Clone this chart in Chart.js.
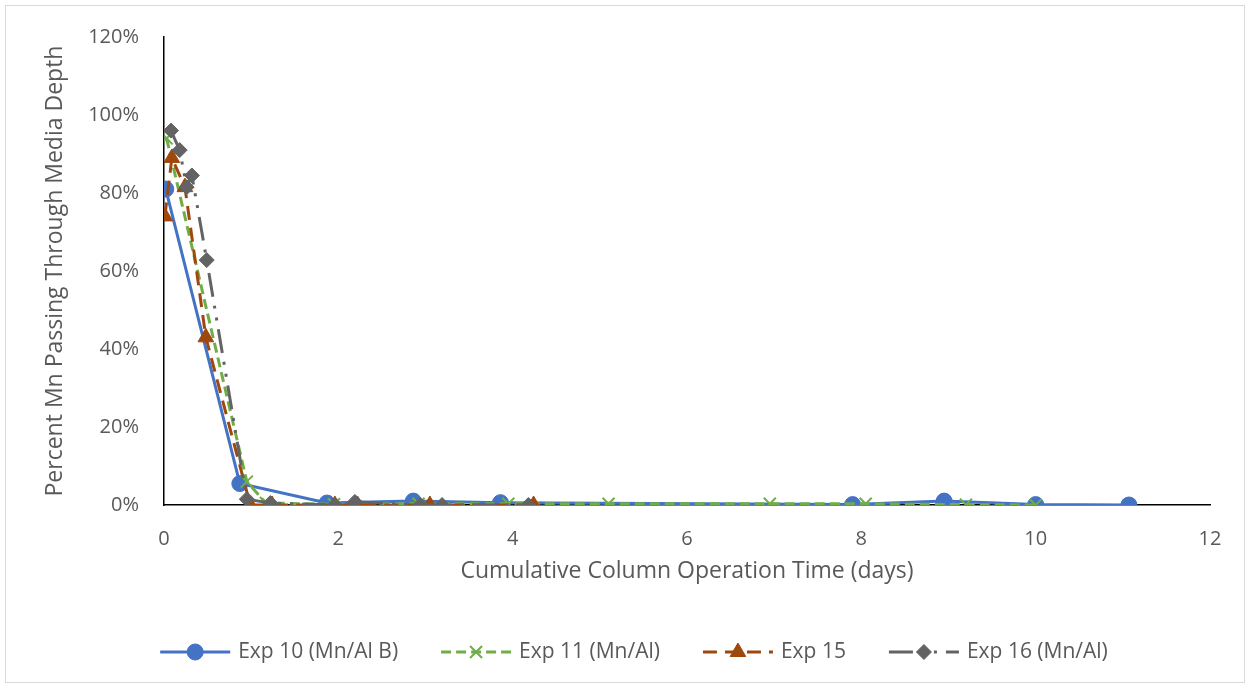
<!DOCTYPE html>
<html>
<head>
<meta charset="utf-8">
<script src="https://cdn.jsdelivr.net/npm/chart.js@4.4.0/dist/chart.umd.min.js"></script>
<style>
  html, body { margin: 0; padding: 0; background: #fff; }
</style>
</head>
<body>
<canvas id="chart" width="1251" height="688"></canvas>
<script>
// days / percent values
const exp10Days = [0.02, 0.87, 1.87, 2.86, 3.86, 7.9, 8.95, 10.0, 11.07];
const exp10Pct  = [81, 5.5, 0.5, 1.0, 0.6, 0.1, 1.0, 0.1, 0];

const exp11Days = [0.03, 0.95, 1.17, 1.95, 2.92, 3.95, 5.1, 6.95, 8.05, 9.2, 10.0];
const exp11Pct  = [94, 6, 0.5, 0.2, 0.3, 0.3, 0.3, 0.3, 0.3, 0.1, 0];

const exp15Days = [0.01, 0.09, 0.24, 0.48, 0.99, 1.24, 1.96, 2.22, 3.05, 4.24];
const exp15Pct  = [74, 89, 81.5, 43, 0, 0, 0, 0, 0, 0];

const exp16Days = [0.08, 0.18, 0.26, 0.32, 0.49, 0.95, 1.22, 1.96, 2.19, 2.94, 3.19, 4.18];
const exp16Pct  = [96, 91, 81.5, 84.5, 62.8, 1.5, 0.5, 0, 0.8, 0, 0, 0];

const seriesNames = ["Exp 10 (Mn/Al B)", "Exp 11 (Mn/Al)", "Exp 15", "Exp 16 (Mn/Al)"];
const xTicksMax = 12;
const yTicksMax = 120;

const textColor = "#595959";
const fontFam = '"Open Sans", "Noto Sans", sans-serif';

function pts(xs, ys) {
    return xs.map((x, i) => ({ x: x, y: ys[i] }));
}

// white background + light frame
const framePlugin = {
    id: "frame",
    beforeDraw(chart) {
        const ctx = chart.ctx;
        ctx.save();
        ctx.fillStyle = "#fff";
        ctx.fillRect(0, 0, chart.width, chart.height);
        ctx.strokeStyle = "#d9d9d9";
        ctx.lineWidth = 1;
        ctx.strokeRect(5.5, 5.5, chart.width - 12, chart.height - 11);
        ctx.restore();
    }
};

// excel style legend : line with marker in the middle
const lineLegend = {
    id: "lineLegend",
    afterDraw(chart) {
        const ctx = chart.ctx;
        const sets = chart.data.datasets;
        const lineLen = 70, gap = 8, spacing = 43;
        ctx.save();
        ctx.font = "21px " + fontFam;
        const widths = sets.map(ds => lineLen + gap + ctx.measureText(ds.label).width);
        const total = widths.reduce((a, b) => a + b, 0) + spacing * (sets.length - 1);
        let x = 634 - total / 2;
        const y = 652;
        sets.forEach((ds, i) => {
            ctx.strokeStyle = ds.borderColor;
            ctx.lineWidth = ds.borderWidth;
            ctx.setLineDash(ds.borderDash || []);
            ctx.beginPath();
            ctx.moveTo(x, y);
            ctx.lineTo(x + lineLen, y);
            ctx.stroke();
            ctx.setLineDash([]);
            ctx.fillStyle = ds.pointBackgroundColor;
            ctx.strokeStyle = ds.pointBorderColor;
            ctx.lineWidth = ds.pointBorderWidth;
            Chart.helpers.drawPoint(ctx, {
                pointStyle: ds.pointStyle,
                radius: ds.pointRadius,
                rotation: 0,
                borderWidth: ds.pointBorderWidth
            }, x + lineLen / 2, y);
            ctx.fillStyle = textColor;
            ctx.textBaseline = "middle";
            ctx.textAlign = "left";
            ctx.fillText(ds.label, x + lineLen + gap, y);
            x += widths[i] + spacing;
        });
        ctx.restore();
    }
};

const data = {
    datasets: [
        {
            label: seriesNames[0],
            data: pts(exp10Days, exp10Pct),
            borderColor: "#4472C4",
            borderWidth: 3,
            pointStyle: "circle",
            pointRadius: 8,
            pointBackgroundColor: "#4472C4",
            pointBorderColor: "#4472C4",
            pointBorderWidth: 1,
            order: 3
        },
        {
            label: seriesNames[1],
            data: pts(exp11Days, exp11Pct),
            borderColor: "#70AD47",
            borderWidth: 3,
            borderDash: [10, 5],
            pointStyle: "crossRot",
            pointRadius: 8.5,
            pointBackgroundColor: "#70AD47",
            pointBorderColor: "#70AD47",
            pointBorderWidth: 2,
            order: 2
        },
        {
            label: seriesNames[2],
            data: pts(exp15Days, exp15Pct),
            borderColor: "#9E480E",
            borderWidth: 3,
            borderDash: [14, 8],
            pointStyle: "triangle",
            pointRadius: 9,
            pointBackgroundColor: "#9E480E",
            pointBorderColor: "#9E480E",
            pointBorderWidth: 1,
            order: 1
        },
        {
            label: seriesNames[3],
            data: pts(exp16Days, exp16Pct),
            borderColor: "#636363",
            borderWidth: 3,
            borderDash: [24, 9, 3, 9, 3, 9],
            pointStyle: "rectRot",
            pointRadius: 7.5,
            pointBackgroundColor: "#636363",
            pointBorderColor: "#636363",
            pointBorderWidth: 1,
            order: 0
        }
    ]
};

const tickFont = { family: fontFam, size: 20 };
const titleFont = { family: fontFam, size: 23 };

new Chart(document.getElementById("chart"), {
    type: "line",
    data: data,
    plugins: [framePlugin, lineLegend],
    options: {
        responsive: false,
        animation: false,
        layout: { padding: { left: 20, right: 41, top: 33, bottom: 70 } },
        plugins: {
            legend: { display: false },
            tooltip: { enabled: false }
        },
        elements: { line: { tension: 0 } },
        scales: {
            x: {
                type: "linear",
                min: 0,
                max: xTicksMax,
                grid: { display: false, drawTicks: false },
                border: { display: true, color: "#000", width: 1.5 },
                ticks: { stepSize: 2, color: textColor, font: tickFont, padding: 22, maxRotation: 0 },
                title: {
                    display: true,
                    text: "Cumulative Column Operation Time (days)",
                    color: textColor,
                    font: titleFont,
                    padding: { top: 4, bottom: 33 }
                },
                afterFit(scale) { scale.height = 113; }
            },
            y: {
                min: 0,
                max: yTicksMax,
                grid: { display: false, drawTicks: false },
                border: { display: true, color: "#000", width: 1.5 },
                ticks: {
                    stepSize: 20,
                    color: textColor,
                    font: tickFont,
                    padding: 25,
                    callback: v => v + "%"
                },
                title: {
                    display: true,
                    text: "Percent Mn Passing Through Media Depth",
                    color: textColor,
                    font: titleFont,
                    padding: { top: 22, bottom: 0 }
                },
                afterFit(scale) { scale.width = 144; }
            }
        }
    }
});
</script>
</body>
</html>
